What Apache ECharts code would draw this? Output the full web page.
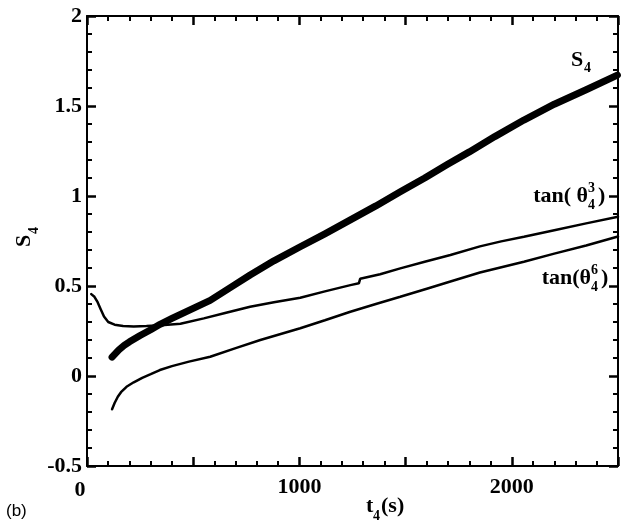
<!DOCTYPE html>
<html><head><meta charset="utf-8">
<script src="https://cdn.jsdelivr.net/npm/echarts@6/dist/echarts.min.js"></script>
<style>html,body{margin:0;padding:0;background:#fff}#c{width:632px;height:527px}</style>
</head><body><div id="c"></div><script>
// ---- data ----
const xLabelValues = [0, 1000, 2000];
const s4Data = [[118,0.105],[130,0.12],[150,0.145],[175,0.17],[200,0.19],[250,0.225],[300,0.257],[344,0.287],[400,0.32],[480,0.365],[580,0.42],[680,0.495],[768,0.561],[880,0.64],[1004,0.718],[1120,0.79],[1240,0.867],[1360,0.945],[1475,1.024],[1590,1.1],[1696,1.175],[1800,1.245],[1920,1.33],[2057,1.422],[2200,1.51],[2350,1.59],[2497,1.672]];
const tan3Data = [[20,0.455],[35,0.44],[50,0.41],[65,0.37],[80,0.33],[100,0.30],[130,0.285],[170,0.278],[220,0.275],[280,0.278],[350,0.282],[440,0.29],[550,0.32],[650,0.35],[768,0.385],[880,0.41],[1004,0.435],[1120,0.47],[1240,0.505],[1280,0.515],[1286,0.54],[1380,0.565],[1475,0.598],[1590,0.635],[1711,0.672],[1850,0.72],[1950,0.748],[2057,0.774],[2200,0.81],[2350,0.848],[2500,0.885]];
const tan6Data = [[118,-0.185],[130,-0.15],[145,-0.115],[160,-0.09],[186,-0.06],[220,-0.035],[260,-0.01],[300,0.01],[343,0.033],[400,0.055],[480,0.08],[580,0.107],[700,0.155],[816,0.2],[1004,0.265],[1120,0.31],[1240,0.357],[1360,0.40],[1475,0.44],[1600,0.485],[1711,0.525],[1850,0.575],[2057,0.635],[2200,0.68],[2350,0.725],[2500,0.775]];

const SERIF = '"Liberation Serif", "Times New Roman", serif';
const F = 'bold 22px ' + SERIF;
const FS = 'bold 14px ' + SERIF;

function mkAxis(pos, min, max, interval, label) {
  return {
    type: 'value', position: pos, min: min, max: max, interval: interval,
    axisLine: { show: true, onZero: false, lineStyle: { color: '#000', width: 2 } },
    axisTick: { show: true, inside: true, length: 9, lineStyle: { color: '#000', width: 2.5 } },
    minorTick: { show: true, splitNumber: 5, length: 5, lineStyle: { color: '#000', width: 2 } },
    splitLine: { show: false },
    axisLabel: label
  };
}

const xLabel = {
  show: true, margin: 10, color: '#000', fontFamily: SERIF, fontWeight: 'bold', fontSize: 22,
  formatter: v => v === 0 ? '{z|0}' : (xLabelValues.indexOf(v) >= 0 ? String(v) : ''),
  rich: { z: { fontFamily: SERIF, fontWeight: 'bold', fontSize: 22, color: '#000', padding: [3, 14, 0, 0] } }
};
const yLabel = { show: true, margin: 5, color: '#000', fontFamily: SERIF, fontWeight: 'bold', fontSize: 22 };

const chart = echarts.init(document.getElementById('c'));
chart.setOption({
  animation: false,
  backgroundColor: '#fff',
  grid: { left: 87, right: 14, top: 16, bottom: 61, outerBoundsMode: 'none' },
  xAxis: [
    mkAxis('bottom', 0, 2500, 500, xLabel),
    mkAxis('top', 0, 2500, 500, { show: false })
  ],
  yAxis: [
    mkAxis('left', -0.5, 2, 0.5, yLabel),
    mkAxis('right', -0.5, 2, 0.5, { show: false })
  ],
  series: [
    { name: 'S4', type: 'line', xAxisIndex: 0, yAxisIndex: 0, data: s4Data, showSymbol: false,
      lineStyle: { color: '#000', width: 7, cap: 'round', join: 'round' }, z: 3 },
    { name: 'tan3', type: 'line', xAxisIndex: 0, yAxisIndex: 0, data: tan3Data, showSymbol: false,
      lineStyle: { color: '#000', width: 2.5, cap: 'round' }, z: 2 },
    { name: 'tan6', type: 'line', xAxisIndex: 0, yAxisIndex: 0, data: tan6Data, showSymbol: false,
      lineStyle: { color: '#000', width: 2.5, cap: 'round' }, z: 2 }
  ],
  graphic: [
    { type: 'group', x: 24, y: 247, rotation: Math.PI / 2, children: [
      { type: 'text', x: 0, y: 0, style: { text: 'S', font: F, fill: '#000', textAlign: 'left', textVerticalAlign: 'middle' } },
      { type: 'text', x: 13, y: 10, style: { text: '4', font: FS, fill: '#000', textAlign: 'left', textVerticalAlign: 'middle' } }
    ]},
    { type: 'text', x: 366, y: 506, style: { text: 't', font: F, fill: '#000', textAlign: 'left', textVerticalAlign: 'middle' } },
    { type: 'text', x: 373, y: 516, style: { text: '4', font: FS, fill: '#000', textAlign: 'left', textVerticalAlign: 'middle' } },
    { type: 'text', x: 381, y: 506, style: { text: '(s)', font: F, fill: '#000', textAlign: 'left', textVerticalAlign: 'middle' } },
    { type: 'text', x: 571, y: 60, style: { text: 'S', font: F, fill: '#000', textAlign: 'left', textVerticalAlign: 'middle' } },
    { type: 'text', x: 584, y: 68, style: { text: '4', font: FS, fill: '#000', textAlign: 'left', textVerticalAlign: 'middle' } },
    { type: 'text', x: 588, y: 196, style: { text: 'tan( θ', font: F, fill: '#000', textAlign: 'right', textVerticalAlign: 'middle' } },
    { type: 'text', x: 588, y: 188, style: { text: '3', font: FS, fill: '#000', textAlign: 'left', textVerticalAlign: 'middle' } },
    { type: 'text', x: 588, y: 205, style: { text: '4', font: FS, fill: '#000', textAlign: 'left', textVerticalAlign: 'middle' } },
    { type: 'text', x: 598, y: 196, style: { text: ')', font: F, fill: '#000', textAlign: 'left', textVerticalAlign: 'middle' } },
    { type: 'text', x: 591, y: 278, style: { text: 'tan(θ', font: F, fill: '#000', textAlign: 'right', textVerticalAlign: 'middle' } },
    { type: 'text', x: 591, y: 270, style: { text: '6', font: FS, fill: '#000', textAlign: 'left', textVerticalAlign: 'middle' } },
    { type: 'text', x: 591, y: 287, style: { text: '4', font: FS, fill: '#000', textAlign: 'left', textVerticalAlign: 'middle' } },
    { type: 'text', x: 601, y: 278, style: { text: ')', font: F, fill: '#000', textAlign: 'left', textVerticalAlign: 'middle' } },
    { type: 'text', x: 6, y: 511, style: { text: '(b)', font: '17px "Liberation Sans", Arial, sans-serif', fill: '#000', textAlign: 'left', textVerticalAlign: 'middle' } }
  ]
});
</script></body></html>
